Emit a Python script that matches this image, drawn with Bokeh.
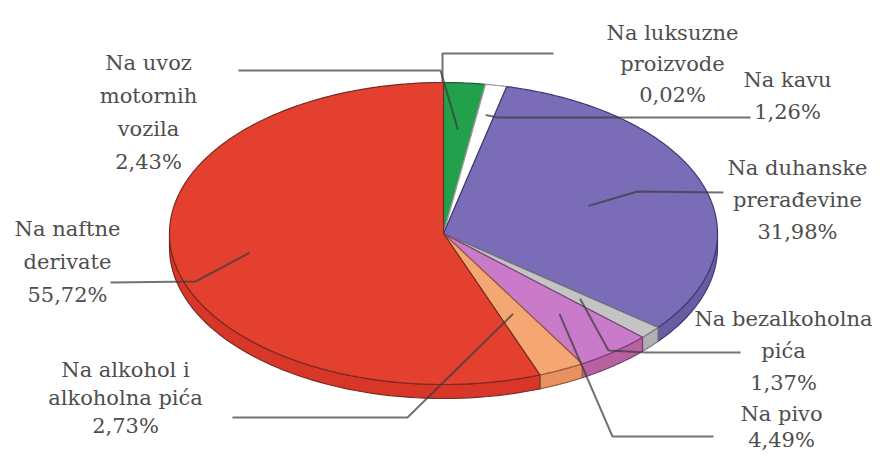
import numpy as np
from bokeh.plotting import figure
from bokeh.models import Range1d
from bokeh.embed import file_html
from bokeh.resources import INLINE
from bokeh.core.properties import value

# ---- data ----
categories = ["Na uvoz motornih vozila", "Na luksuzne proizvode", "Na kavu",
              "Na duhanske prerađevine", "Na bezalkoholna pića", "Na pivo",
              "Na alkohol i alkoholna pića", "Na naftne derivate"]
shares = [2.43, 0.02, 1.26, 31.98, 1.37, 4.49, 2.73, 55.72]
pct_labels = ["2,43%", "0,02%", "1,26%", "31,98%", "1,37%", "4,49%", "2,73%", "55,72%"]
label_lines = [["Na uvoz", "motornih", "vozila"], ["Na luksuzne", "proizvode"], ["Na kavu"],
               ["Na duhanske", "prerađevine"], ["Na bezalkoholna", "pića"], ["Na pivo"],
               ["Na alkohol i", "alkoholna pića"], ["Na naftne", "derivate"]]

# ---- styles / layout ----
top_colors = ["#22a04c", "#ffffff", "#ffffff", "#7a6cb6", "#c4c4c4", "#c97ac8", "#f4a673", "#e3402f"]
side_colors = ["#1b8a40", "#e8e8e8", "#e8e8e8", "#6a5ca2", "#b0b0b0", "#b8619f", "#e79060", "#d73628"]
edge_colors = ["#1f5e33", "#9a9a9a", "#9a9a9a", "#3f3876", "#7a7a7a", "#7a3f7a", "#9a5a3a", "#7a2a20"]
CX, CY, RX, RY, DEPTH = 443, 233, 274, 151, 14

# label block: centre x, first line y, line spacing
label_pos = [(148, 62, 33), (672, 32, 31), (787, 79, 32), (797, 167, 32),
             (783, 318, 32), (781, 413, 26), (125, 369, 28), (67, 228, 33)]
# leader: outer points, then anchor radius fraction inside the slice (None = no anchor)
leader_outer = [[(238, 70), (440, 70)], [(553, 53), (442, 53), (442, 82)], [(750, 117), (497, 117)],
                [(723, 192), (637, 191)], [(740, 352), (645, 352), (608, 350)],
                [(713, 436), (612, 436)], [(232, 417), (407, 417)], [(110, 282), (195, 281)]]
anchor_r = [0.69, None, 0.8, 0.56, 0.66, 0.68, 0.59, 0.72]


def pt(theta_deg, r=1.0, dy=0.0):
    t = np.radians(theta_deg)
    return CX + RX * r * np.sin(t), CY - RY * r * np.cos(t) + dy


total = sum(shares)
bounds = np.concatenate([[0.0], np.cumsum(shares)]) / total * 360.0

p = figure(width=877, height=450, x_range=Range1d(0, 877), y_range=Range1d(450, 0),
           output_backend="svg", toolbar_location=None, min_border=0)
p.axis.visible = False
p.grid.visible = False
p.outline_line_color = None
p.background_fill_color = "white"

# side (front half only)
for i in range(len(shares)):
    a0, a1 = max(bounds[i], 90.0), min(bounds[i + 1], 270.0)
    if a1 <= a0:
        continue
    th = np.linspace(a0, a1, 60)
    xt, yt = pt(th)
    xb, yb = pt(th[::-1], dy=DEPTH)
    p.patch(list(xt) + list(xb), list(yt) + list(yb), fill_color=side_colors[i],
            line_color=edge_colors[i], line_width=1.2)

# top faces
for i in range(len(shares)):
    th = np.linspace(bounds[i], bounds[i + 1], max(4, int(bounds[i + 1] - bounds[i]) * 2))
    xa, ya = pt(th)
    p.patch([CX] + list(xa), [CY] + list(ya), fill_color=top_colors[i],
            line_color=edge_colors[i], line_width=1.2)

# leader lines
for i in range(len(shares)):
    xs = [q[0] for q in leader_outer[i]]
    ys = [q[1] for q in leader_outer[i]]
    if anchor_r[i] is not None:
        mid = (bounds[i] + bounds[i + 1]) / 2
        ax, ay = pt(mid, anchor_r[i])
        xs.append(float(ax))
        ys.append(float(ay))
    p.line(xs, ys, line_color="#3c3c3c", line_alpha=0.72, line_width=2)

# labels
tx, ty, tt = [], [], []
for i in range(len(shares)):
    cx, y0, sp = label_pos[i]
    for k, s in enumerate(label_lines[i] + [pct_labels[i]]):
        tx.append(cx)
        ty.append(y0 + k * sp)
        tt.append(s)
p.text(tx, ty, text=tt, text_align="center", text_baseline="middle",
       text_font=value("DejaVu Serif"), text_font_size="21px", text_color="#4e4e4e")

open("out.html", "w").write(file_html(p, INLINE))
